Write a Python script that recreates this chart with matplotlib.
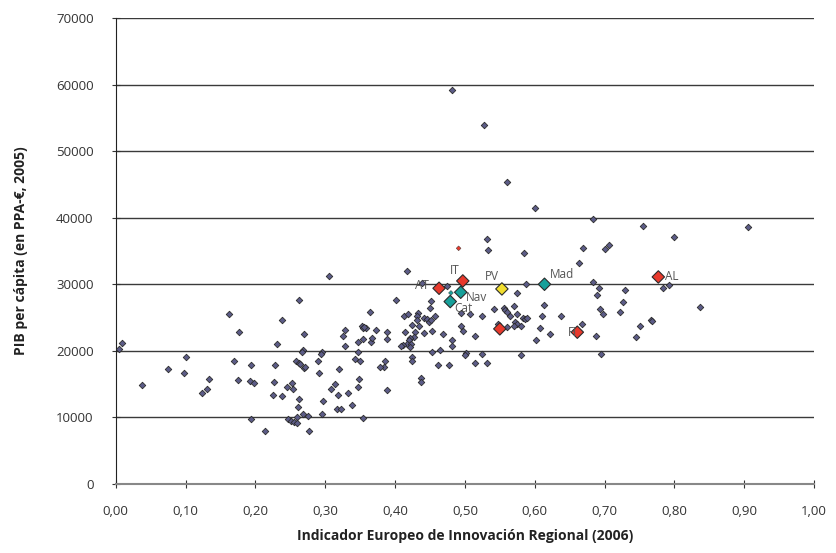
import matplotlib.pyplot as plt
import numpy as np

plt.rcParams['font.family'] = ['Open Sans', 'DejaVu Sans']

# regiones (indicador de innovación, PIB per cápita)
iri = [
    0.009, 0.005, 0.037, 0.075, 0.100, 0.098, 0.133, 0.131, 0.123, 0.162,
    0.176, 0.170, 0.175, 0.193, 0.192, 0.198, 0.193, 0.213, 0.238, 0.231,
    0.228, 0.226, 0.225, 0.238, 0.245, 0.253, 0.254, 0.263, 0.263, 0.270,
    0.268, 0.267, 0.258, 0.262, 0.264, 0.269, 0.271, 0.261, 0.268, 0.275,
    0.246, 0.251, 0.255, 0.259, 0.259, 0.277,
    0.306, 0.417, 0.439, 0.475, 0.402, 0.364, 0.452, 0.450, 0.457, 0.433,
    0.413, 0.418, 0.431, 0.441, 0.446, 0.449, 0.452, 0.432, 0.434, 0.424,
    0.429, 0.441, 0.453, 0.468, 0.389, 0.388, 0.414, 0.427, 0.421, 0.420,
    0.417, 0.412, 0.409, 0.423, 0.422, 0.482, 0.481, 0.453, 0.464, 0.501,
    0.500, 0.424, 0.424, 0.385, 0.462, 0.477, 0.515, 0.531, 0.384, 0.494,
    0.508, 0.494, 0.497, 0.515, 0.525, 0.541, 0.525, 0.328, 0.325, 0.352,
    0.354, 0.358, 0.356, 0.373, 0.354, 0.347, 0.365, 0.367, 0.328, 0.295,
    0.294, 0.347, 0.342, 0.350, 0.378, 0.289, 0.319, 0.291, 0.348, 0.347,
    0.314, 0.308, 0.333, 0.318, 0.388, 0.338, 0.297, 0.317, 0.323, 0.296,
    0.354, 0.437, 0.437,
    0.481, 0.527, 0.560, 0.601, 0.683, 0.531, 0.533, 0.585, 0.669, 0.664,
    0.700, 0.707, 0.755, 0.905, 0.800,
    0.587, 0.684, 0.692, 0.689, 0.730, 0.784, 0.792, 0.574, 0.556, 0.558,
    0.560, 0.571, 0.564, 0.574, 0.613, 0.611, 0.638, 0.583, 0.586, 0.589,
    0.572, 0.574, 0.570, 0.581, 0.561, 0.548, 0.607, 0.622, 0.602, 0.668,
    0.688, 0.693, 0.698, 0.726, 0.722, 0.751, 0.745, 0.766, 0.768, 0.580,
    0.695, 0.837,
]
pib = [
    21200, 20300, 14800, 17300, 19000, 16600, 15700, 14200, 13700, 25500,
    22900, 18400, 15600, 17800, 15500, 15100, 9700, 7900, 24600, 21000,
    17900, 15300, 13400, 13200, 14600, 15100, 14300, 12800, 27600, 22600,
    20200, 19900, 18400, 18100, 18000, 17400, 17500, 11600, 10500, 10200,
    9800, 9500, 9300, 10000, 9100, 7900,
    31300, 32000, 30200, 29800, 27700, 25900, 27500, 26400, 25300, 25700,
    25300, 25500, 25200, 25000, 24800, 24400, 24600, 24600, 23800, 23900,
    22800, 22700, 23000, 22600, 22900, 21800, 22800, 22100, 21900, 21600,
    21100, 20900, 20800, 21100, 20600, 21600, 20700, 19800, 20100, 19700,
    19400, 19100, 18400, 18500, 17800, 17800, 18200, 18100, 17500, 25700,
    25500, 23800, 23000, 22300, 25300, 26300, 19500, 23200, 22300, 23800,
    23400, 23400, 23600, 23100, 21800, 21300, 21300, 21900, 20800, 19900,
    19600, 19800, 18800, 18400, 17500, 18400, 17300, 16700, 15700, 14500,
    15000, 14300, 13600, 13400, 14100, 11900, 12400, 11300, 11200, 10500,
    9900, 15900, 15300,
    59200, 53900, 45300, 41500, 39800, 36800, 35200, 34700, 35500, 33200,
    35300, 35900, 38700, 38600, 37100,
    30100, 30400, 29400, 28400, 29100, 29500, 29900, 28700, 26500, 26100,
    25900, 26800, 25300, 25500, 26900, 25300, 25300, 24900, 24800, 25000,
    24400, 24100, 23800, 23800, 23600, 24000, 23500, 22500, 21600, 24000,
    22200, 26300, 25500, 27300, 25800, 23700, 22100, 24600, 24500, 19300,
    19500, 26600,
]

# regiones destacadas
hl_names = ['AT', 'IT', 'Nav', 'Cat', 'PV', 'Mad', 'AL', 'FI', '']
hl_iri = [0.463, 0.497, 0.494, 0.479, 0.553, 0.614, 0.777, 0.661, 0.550]
hl_pib = [29400, 30500, 28800, 27400, 29300, 30000, 31100, 22800, 23300]
hl_colors = ['#e8392c', '#e8392c', '#17a09a', '#17a09a', '#f2de2e',
             '#17a09a', '#e8392c', '#e8392c', '#e8392c']

# puntos pequeños de color
small_iri = [0.480, 0.491]
small_pib = [28700, 35400]
small_colors = ['#17a09a', '#e8392c']

fig, ax = plt.subplots(figsize=(8.36, 5.53), dpi=100)
fig.subplots_adjust(left=0.1385, right=0.9737, top=0.9675, bottom=0.1248)

for yv in range(10000, 70001, 10000):
    ax.axhline(yv, color='#3a3a3a', lw=1.0, zorder=1)

ax.scatter(iri, pib, marker='D', s=11, c='#5c5c88', edgecolors='#2a2a2a',
           linewidths=0.6, zorder=3)
ax.scatter(small_iri, small_pib, marker='D', s=6, c=small_colors,
           edgecolors='#2a2a2a', linewidths=0.3, zorder=3)
ax.scatter(hl_iri, hl_pib, marker='D', s=40, c=hl_colors,
           edgecolors='#2a2a2a', linewidths=0.8, zorder=4)

offsets = {'AT': (-7, 2, 'right', 'center'),
           'IT': (-2, 3, 'right', 'bottom'),
           'Nav': (4, 1, 'left', 'top'),
           'Cat': (3, 0, 'left', 'top'),
           'PV': (-2, 4, 'right', 'bottom'),
           'Mad': (4, 2, 'left', 'bottom'),
           'AL': (5, 0, 'left', 'center'),
           'FI': (0, 0, 'right', 'center')}
for name, xv, yv in zip(hl_names, hl_iri, hl_pib):
    if name == '':
        continue
    dx, dy, ha, va = offsets[name]
    ax.annotate(name, (xv, yv), xytext=(dx, dy), textcoords='offset points',
                ha=ha, va=va, fontsize=8.5, color='#555555', zorder=5)

ax.set_xlim(0, 1.0)
ax.set_ylim(0, 70000)
xt = np.arange(0, 1.01, 0.1)
ax.set_xticks(xt, labels=[f'{v:.2f}'.replace('.', ',') for v in xt])
ax.set_yticks(np.arange(0, 70001, 10000))

for s in ['top', 'right']:
    ax.spines[s].set_visible(False)
ax.spines['left'].set_color('#222222')
ax.spines['bottom'].set_color('#888888')
ax.spines['bottom'].set_linewidth(1.5)
ax.tick_params(axis='both', direction='inout', length=6, width=0.8,
               colors='#333333', labelsize=9.5)
ax.tick_params(axis='y', pad=13)
ax.tick_params(axis='x', pad=12)

ax.set_xlabel('Indicador Europeo de Innovación Regional (2006)',
              fontsize=10, fontweight='bold', labelpad=8, color='#222222')
ax.set_ylabel('PIB per cápita (en PPA-€, 2005)',
              fontsize=10, fontweight='bold', labelpad=20, color='#222222')

plt.savefig('out.png', dpi=100)
